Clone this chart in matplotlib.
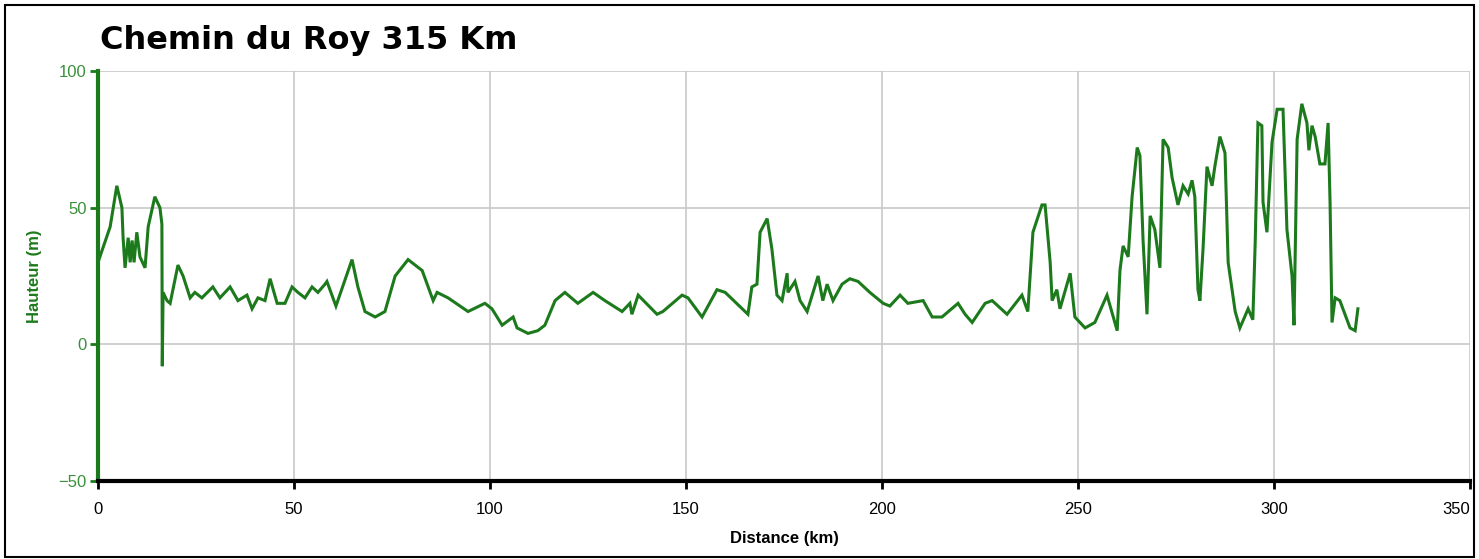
import matplotlib.pyplot as plt
from matplotlib.patches import Rectangle

# elevation profile: distance (km) and height (m)
distance_km = [
    0.0, 3.1, 4.8, 6.1, 6.4, 6.9, 7.7, 8.2, 8.7, 9.2, 9.9, 10.7, 12.0, 12.8,
    14.5, 15.8, 16.3, 16.4, 16.6, 17.6, 18.4, 20.4, 21.7, 23.5, 24.7, 26.5,
    29.3, 31.1, 33.7, 35.7, 38.0, 39.3, 40.8, 42.6, 43.9, 45.7, 47.7, 49.5,
    51.0, 52.8, 54.6, 56.1, 57.9, 58.4, 60.7, 64.8, 66.3, 68.1, 70.7, 73.2,
    75.8, 79.1, 82.7, 85.5, 86.5, 89.3, 94.4, 98.7, 100.5, 103.1, 105.9,
    106.9, 109.7, 112.2, 114.0, 116.6, 119.1, 122.4, 126.3, 129.3, 133.7,
    135.7, 136.2, 137.8, 142.6, 144.1, 149.0, 150.5, 154.1, 157.9, 160.0,
    165.8, 166.8, 168.1, 168.9, 170.7, 171.9, 173.2, 174.5, 175.8, 176.0,
    177.8, 179.1, 180.9, 183.7, 184.9, 186.0, 187.5, 189.8, 191.8, 193.9,
    196.9, 200.3, 202.0, 204.6, 206.6, 210.5, 212.8, 215.3, 219.4, 221.2,
    223.0, 226.3, 228.1, 231.9, 235.7, 237.2, 238.5, 240.8, 241.6, 242.9,
    243.4, 244.6, 245.4, 248.0, 249.2, 251.8, 254.3, 257.4, 260.0, 260.7,
    261.5, 262.8, 263.8, 265.1, 265.8, 266.6, 267.6, 268.4, 269.6, 270.9,
    271.7, 273.0, 274.0, 275.5, 276.8, 278.1, 279.1, 279.8, 280.6, 281.1,
    281.9, 282.9, 284.2, 284.9, 286.2, 287.5, 288.3, 290.1, 291.3, 293.4,
    294.6, 295.2, 295.9, 296.9, 297.2, 298.2, 299.5, 300.8, 302.3, 303.3,
    304.6, 305.1, 305.9, 307.1, 308.4, 308.9, 309.7, 310.5, 311.7, 313.0,
    313.8, 314.3, 314.8, 315.6, 316.8, 319.4, 320.7, 321.4,
]
height_m = [
    30, 43, 58, 50, 39, 28, 39, 30, 38, 30, 41, 32, 28, 43,
    54, 50, 44, -8, 19, 16, 15, 29, 25, 17, 19, 17,
    21, 17, 21, 16, 18, 13, 17, 16, 24, 15, 15, 21,
    19, 17, 21, 19, 22, 23, 14, 31, 21, 12, 10, 12,
    25, 31, 27, 16, 19, 17, 12, 15, 13, 7, 10,
    6, 4, 5, 7, 16, 19, 15, 19, 16, 12,
    15, 11, 18, 11, 12, 18, 17, 10, 20, 19,
    11, 21, 22, 41, 46, 35, 18, 16, 26, 19,
    23, 16, 12, 25, 16, 22, 16, 22, 24, 23,
    19, 15, 14, 18, 15, 16, 10, 10, 15, 11,
    8, 15, 16, 11, 18, 12, 41, 51, 51, 30,
    16, 20, 13, 26, 10, 6, 8, 18, 5, 27,
    36, 32, 54, 72, 69, 38, 11, 47, 42, 28,
    75, 72, 61, 51, 58, 55, 60, 54, 20, 16,
    35, 65, 58, 65, 76, 70, 30, 12, 6, 13,
    9, 37, 81, 80, 52, 41, 74, 86, 86, 42,
    25, 7, 75, 88, 81, 71, 80, 76, 66, 66,
    81, 52, 8, 17, 16, 6, 5, 13,
]

x_ticks = [0, 50, 100, 150, 200, 250, 300, 350]
y_ticks = [-50, 0, 50, 100]

line_green = '#1c7a1c'
label_green = '#3a8f3a'

plt.rcParams['font.family'] = ['Liberation Sans', 'DejaVu Sans']

fig = plt.figure(figsize=(14.79, 5.59), dpi=100)
ax = fig.add_axes([98 / 1479, 1 - 481 / 559, 1372 / 1479, 410 / 559])

ax.plot(distance_km, height_m, color=line_green, linewidth=2.2,
        solid_joinstyle='miter', zorder=3)

ax.set_xlim(0, 350)
ax.set_ylim(-50, 100)
ax.set_xticks(x_ticks)
ax.set_yticks(y_ticks)
ax.grid(True, color='#c8c8c8', linewidth=1.2)
ax.set_axisbelow(True)

for side in ['top', 'right']:
    ax.spines[side].set_visible(False)
ax.spines['bottom'].set_color('black')
ax.spines['bottom'].set_linewidth(3)
ax.spines['left'].set_color(line_green)
ax.spines['left'].set_linewidth(3)

ax.tick_params(axis='x', colors='black', length=6, width=2, labelsize=12, pad=9)
ax.tick_params(axis='y', colors=line_green, labelcolor=label_green,
               length=6, width=2, labelsize=12, pad=2)
ax.get_xticklabels()[-1].set_ha('right')

ax.set_xlabel('Distance (km)', fontsize=12, fontweight='bold', labelpad=10)
ax.set_ylabel('Hauteur (m)', fontsize=12, fontweight='bold',
              color=line_green, labelpad=12)

fig.text(100 / 1479, 1 - 40 / 559, 'Chemin du Roy 315 Km', fontsize=23,
         fontweight='bold', va='center', ha='left', family='DejaVu Sans')

fig.patches.append(Rectangle((5 / 1479, 2 / 559), 1469 / 1479, 552 / 559,
                             transform=fig.transFigure, fill=False,
                             edgecolor='black', linewidth=1.5))

fig.savefig('out.png', dpi=100)
